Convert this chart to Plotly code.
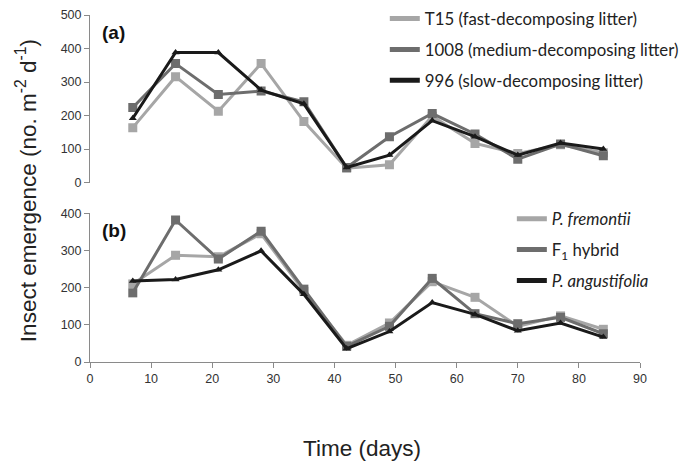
import plotly.graph_objects as go

days = [7, 14, 21, 28, 35, 42, 49, 56, 63, 70, 77, 84]

# Panel (a): litter types
t15 = [164, 316, 213, 355, 182, 43, 53, 198, 117, 87, 113, 89]
m1008 = [224, 355, 263, 273, 241, 45, 137, 206, 145, 70, 115, 80]
s996 = [192, 388, 388, 276, 235, 45, 82, 185, 137, 82, 118, 100]

# Panel (b): cross types
fremontii = [210, 287, 283, 345, 190, 45, 105, 216, 174, 96, 124, 88]
f1_hybrid = [186, 382, 277, 352, 196, 42, 96, 225, 130, 103, 120, 76]
angustifolia = [218, 222, 248, 299, 182, 36, 82, 160, 128, 84, 105, 67]

names_a = ["T15 (fast-decomposing litter)", "1008 (medium-decomposing litter)", "996 (slow-decomposing litter)"]
names_b = ["<i>P. fremontii</i>", "F<sub>1</sub> hybrid", "<i>P. angustifolia</i>"]

LIGHT = "#a6a6a6"
MID = "#6d6d6d"
DARK = "#1a1a1a"
colors = [LIGHT, MID, DARK]
symbols = ["square", "square", "triangle-up"]
msizes = [9, 9, 7]

fig = go.Figure()

series_a = [t15, m1008, s996]
series_b = [fremontii, f1_hybrid, angustifolia]

for vals, name, c, s, ms in zip(series_a, names_a, colors, symbols, msizes):
    fig.add_trace(go.Scatter(x=days, y=vals, mode="lines+markers", name=name,
                             line=dict(color=c, width=3), marker=dict(symbol=s, size=ms, color=c),
                             xaxis="x", yaxis="y", showlegend=False))
for vals, name, c, s, ms in zip(series_b, names_b, colors, symbols, msizes):
    fig.add_trace(go.Scatter(x=days, y=vals, mode="lines+markers", name=name,
                             line=dict(color=c, width=3), marker=dict(symbol=s, size=ms, color=c),
                             xaxis="x2", yaxis="y2", showlegend=False))

# legend-only entries (line samples)
for i, (name, c) in enumerate(zip(names_a, colors)):
    fig.add_trace(go.Scatter(x=[None], y=[None], mode="lines", name=name,
                             line=dict(color=c, width=5), legend="legend",
                             legendgroup="a%d" % i, xaxis="x", yaxis="y"))
for i, (name, c) in enumerate(zip(names_b, colors)):
    fig.add_trace(go.Scatter(x=[None], y=[None], mode="lines", name=name,
                             line=dict(color=c, width=5), legend="legend2",
                             legendgroup="b%d" % i, xaxis="x2", yaxis="y2"))

axis_font = dict(family="Liberation Sans, Arial, sans-serif", size=12.5, color="#333333")
legend_font = dict(family="Lato, sans-serif", size=16.8, color="#222222")
title_font = dict(family="Liberation Sans, Arial, sans-serif", size=22.5, color="#222222")
panel_font = dict(family="Liberation Sans, Arial, sans-serif", size=19, color="#111111")

fig.update_layout(
    width=683, height=461,
    margin=dict(l=90, r=43, t=15, b=99, autoexpand=False),
    plot_bgcolor="white", paper_bgcolor="white",
    hovermode=False,
    xaxis=dict(domain=[0, 1], range=[0, 90], showline=False, showticklabels=False,
               ticks="", showgrid=False, zeroline=False, anchor="y"),
    yaxis=dict(domain=[0.517, 1], range=[0, 500], dtick=100, showline=True, linecolor="#8a8a8a",
               linewidth=1, ticks="outside", ticklen=5, tickcolor="#8a8a8a", showgrid=False,
               zeroline=False, tickfont=axis_font, anchor="x"),
    xaxis2=dict(domain=[0, 1], range=[0, 90], dtick=10, showline=True, linecolor="#8a8a8a",
                linewidth=1, ticks="outside", ticklen=5, tickcolor="#8a8a8a", showgrid=False,
                zeroline=False, tickfont=axis_font, anchor="y2"),
    yaxis2=dict(domain=[0, 0.4285], range=[0, 400], dtick=100, showline=True, linecolor="#8a8a8a",
                linewidth=1, ticks="outside", ticklen=5, tickcolor="#8a8a8a", showgrid=False,
                zeroline=False, tickfont=axis_font, anchor="x2"),
    legend=dict(x=0.536, y=1.04, xanchor="left", yanchor="top", font=legend_font,
                bgcolor="rgba(0,0,0,0)", tracegroupgap=6, traceorder="grouped",
                itemwidth=30),
    legend2=dict(x=0.767, y=0.463, xanchor="left", yanchor="top", font=legend_font,
                 bgcolor="rgba(0,0,0,0)", tracegroupgap=6, traceorder="grouped",
                 itemwidth=30),
    annotations=[
        dict(text="<b>(a)</b>", x=0.018, y=0.985, xref="paper", yref="paper", xanchor="left",
             yanchor="top", showarrow=False, font=panel_font),
        dict(text="<b>(b)</b>", x=0.018, y=0.415, xref="paper", yref="paper", xanchor="left",
             yanchor="top", showarrow=False, font=panel_font),
        dict(text="Insect emergence (no. m<sup>-2</sup> d<sup>-1</sup>)", x=-0.116, y=0.493,
             xref="paper", yref="paper", xanchor="center", yanchor="middle",
             textangle=-90, showarrow=False, font=title_font),
        dict(text="Time (days)", x=0.495, y=-0.248, xref="paper", yref="paper",
             xanchor="center", yanchor="middle", showarrow=False, font=title_font),
    ],
)

fig.write_html("out.html", config={"displayModeBar": False},
               post_script="document.body.style.margin='0';")
